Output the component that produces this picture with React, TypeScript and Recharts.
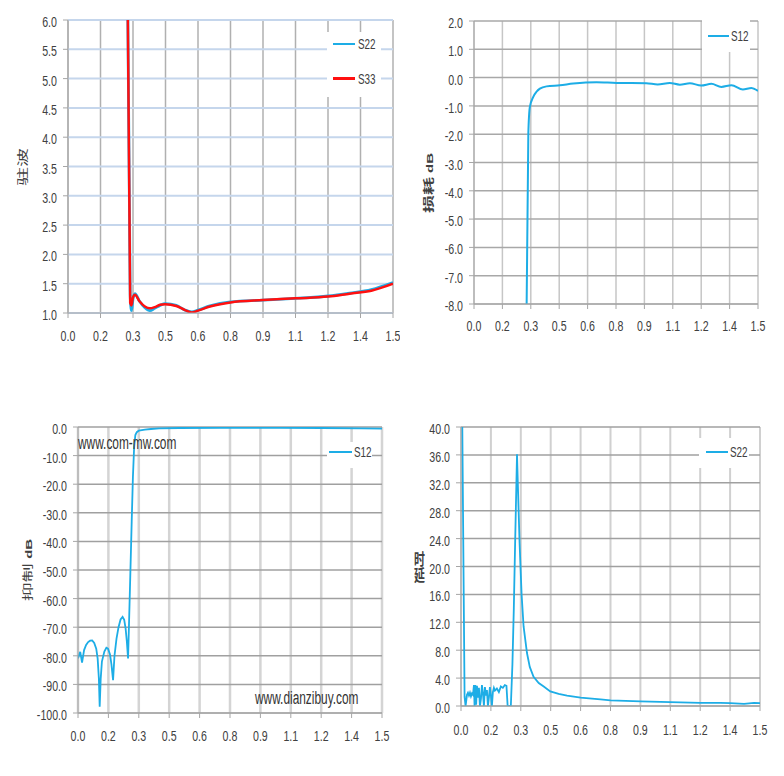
import React from 'react';
import { LineChart, Line, XAxis, YAxis, CartesianGrid } from 'recharts';

// frequency axis (GHz), evenly spaced, labels rounded like the original sheet
const xTicks = [0, 0.15, 0.3, 0.45, 0.6, 0.75, 0.9, 1.05, 1.2, 1.35, 1.5];
const xTickLabels = ['0.0', '0.2', '0.3', '0.5', '0.6', '0.8', '0.9', '1.1', '1.2', '1.4', '1.5'];

const vswrTicks = [1, 1.5, 2, 2.5, 3, 3.5, 4, 4.5, 5, 5.5, 6];
const lossTicks = [-8, -7, -6, -5, -4, -3, -2, -1, 0, 1, 2];
const rejTicks = [-100, -90, -80, -70, -60, -50, -40, -30, -20, -10, 0];
const delayTicks = [0, 4, 8, 12, 16, 20, 24, 28, 32, 36, 40];

// 驻波
const vswrFreq = [0.274, 0.287, 0.293, 0.3, 0.309, 0.33, 0.355, 0.378, 0.4, 0.425, 0.448, 0.5, 0.54, 0.571, 0.6, 0.655, 0.75, 0.9, 1.05, 1.2, 1.3, 1.4, 1.5];
const s22Vswr = [7.0, 1.3, 1.04, 1.24, 1.33, 1.2, 1.09, 1.04, 1.08, 1.13, 1.16, 1.13, 1.05, 1.02, 1.05, 1.12, 1.19, 1.22, 1.25, 1.29, 1.34, 1.4, 1.52];
const s33Vswr = [7.0, 1.17, 1.13, 1.27, 1.31, 1.2, 1.11, 1.08, 1.1, 1.14, 1.15, 1.12, 1.05, 1.01, 1.04, 1.11, 1.18, 1.22, 1.25, 1.28, 1.33, 1.38, 1.5];

// 损耗
const lossFreq = [0.278, 0.287, 0.295, 0.313, 0.33, 0.348, 0.383, 0.454, 0.524, 0.647, 0.753, 0.91, 0.97, 1.034, 1.087, 1.14, 1.2, 1.254, 1.306, 1.36, 1.42, 1.465, 1.5];
const s12Loss = [-8.0, -1.98, -1.04, -0.68, -0.5, -0.39, -0.31, -0.27, -0.21, -0.16, -0.19, -0.2, -0.24, -0.19, -0.25, -0.2, -0.28, -0.22, -0.33, -0.27, -0.42, -0.37, -0.47];

// 抑制
const rejFreq = [0.0, 0.011, 0.02, 0.03, 0.04, 0.05, 0.06, 0.07, 0.08, 0.09, 0.097, 0.103, 0.107, 0.112, 0.118, 0.13, 0.14, 0.148, 0.158, 0.165, 0.173, 0.18, 0.19, 0.2, 0.21, 0.22, 0.228, 0.235, 0.241, 0.247, 0.252, 0.258, 0.265, 0.271, 0.277, 0.283, 0.29, 0.3, 0.33, 0.36, 0.4, 0.5, 0.7, 1.0, 1.2, 1.4, 1.5];
const s12Rej = [-80.9, -78.6, -82.4, -78, -76.2, -75.2, -74.7, -74.6, -75.5, -77.5, -81, -88, -97.8, -88, -82, -78.5, -77.2, -77.5, -79.5, -83, -88.5, -80, -74, -70, -67.3, -66.4, -67.4, -70.5, -75, -80.9, -68, -52, -33, -17.4, -7, -2.8, -1.8, -1.3, -0.9, -0.7, -0.5, -0.35, -0.3, -0.3, -0.35, -0.45, -0.55];

// 时延
const delayFreq = [0.005, 0.018, 0.023, 0.03, 0.035, 0.04, 0.045, 0.05, 0.055, 0.06, 0.065, 0.068, 0.072, 0.076, 0.08, 0.085, 0.09, 0.095, 0.1, 0.105, 0.11, 0.115, 0.12, 0.125, 0.13, 0.135, 0.14, 0.145, 0.15, 0.155, 0.16, 0.165, 0.17, 0.18, 0.19, 0.2, 0.21, 0.22, 0.228, 0.234, 0.25, 0.258, 0.265, 0.272, 0.278, 0.281, 0.288, 0.294, 0.304, 0.314, 0.331, 0.345, 0.364, 0.39, 0.415, 0.448, 0.49, 0.532, 0.6, 0.7, 0.75, 0.9, 1.05, 1.2, 1.3, 1.35, 1.42, 1.47, 1.5];
const s22Delay = [45, 1.3, 0, 1.6, 1.9, 1.5, 1.9, 1.4, 1.8, 1.6, 3.0, 0, 3.0, 0.2, 2.9, 1.2, 2.6, 0, 1.0, 3.0, 1.8, 0, 2.7, 1.5, 2.3, 0, 1.2, 2.7, 1.5, 0, 2.0, 2.6, 2.2, 2.5, 2.0, 2.8, 2.6, 3.0, 2.9, 0, 0, 6, 14, 24, 32, 36.1, 29, 23.3, 16, 11.4, 7.6, 5.6, 4.2, 3.3, 2.8, 2.1, 1.75, 1.5, 1.2, 0.95, 0.8, 0.65, 0.55, 0.45, 0.45, 0.42, 0.3, 0.45, 0.4];

const vswrData = vswrFreq.map((f, i) => ({ f, S22: s22Vswr[i], S33: s33Vswr[i] }));
const lossData = lossFreq.map((f, i) => ({ f, S12: s12Loss[i] }));
const rejData = rejFreq.map((f, i) => ({ f, S12: s12Rej[i] }));
const delayData = delayFreq.map((f, i) => ({ f, S22: s22Delay[i] }));

const BLUE = '#1DADE6';
const RED = '#FF1010';
const TXT = '#404040';
const LATIN = '"Liberation Sans", Arial, sans-serif';
const CJK = '"Noto Sans CJK SC", sans-serif';
const SQ = 0.76; // the source picture is squeezed horizontally

const XTick = (props: any) => {
  const { x, y, payload } = props;
  const i = xTicks.findIndex((t) => Math.abs(t - payload.value) < 1e-6);
  return (
    <g transform={`translate(${x},${y}) scale(${SQ},1)`}>
      <text textAnchor="middle" dy="0.71em" fontSize={14} fontFamily={LATIN} fill={TXT}>
        {xTickLabels[i]}
      </text>
    </g>
  );
};

const YTick = (props: any) => {
  const { x, y, payload } = props;
  return (
    <g transform={`translate(${x},${y}) scale(${SQ},1)`}>
      <text textAnchor="end" dy="0.5em" fontSize={14} fontFamily={LATIN} fill={TXT}>
        {Number(payload.value).toFixed(1)}
      </text>
    </g>
  );
};

type Series = { key: string; color: string; width: number };

interface PanelProps {
  left: number;
  top: number;
  width: number;
  height: number;
  margin: { top: number; right: number };
  yWidth: number;
  xHeight: number;
  xTickMargin: number;
  yDomain: [number, number];
  yTicks: number[];
  data: any[];
  series: Series[];
  hGrid: { stroke: string; width: number };
  vGrid: { stroke: string; width: number };
  curve: 'monotone' | 'linear';
  legend: { left: number; top: number; width: number; height: number; lineLeft: number; lineWidth: number; textLeft: number; firstY: number; gap: number; lineW: number };
  children?: React.ReactNode;
}

const Panel: React.FC<PanelProps> = (p) => {
  const lg = p.legend;
  return (
    <div style={{ position: 'absolute', left: p.left, top: p.top, width: p.width, height: p.height }}>
      <LineChart width={p.width} height={p.height} data={p.data} margin={{ top: p.margin.top, right: p.margin.right, left: 0, bottom: 0 }}>
        <CartesianGrid horizontal={false} stroke={p.vGrid.stroke} strokeWidth={p.vGrid.width} />
        <CartesianGrid vertical={false} stroke={p.hGrid.stroke} strokeWidth={p.hGrid.width} />
        <XAxis
          dataKey="f"
          type="number"
          domain={[0, 1.5]}
          ticks={xTicks}
          allowDataOverflow
          height={p.xHeight}
          tickSize={5}
          tickMargin={p.xTickMargin}
          stroke="#A6A6A6"
          tick={<XTick />}
          interval={0}
        />
        <YAxis
          type="number"
          domain={p.yDomain}
          ticks={p.yTicks}
          allowDataOverflow
          width={p.yWidth}
          tickSize={5}
          tickMargin={6}
          stroke="#A6A6A6"
          tick={<YTick />}
          interval={0}
        />
        {p.series.map((s) => (
          <Line
            key={s.key}
            type={p.curve}
            dataKey={s.key}
            stroke={s.color}
            strokeWidth={s.width}
            dot={false}
            activeDot={false}
            isAnimationActive={false}
          />
        ))}
      </LineChart>
      <div style={{ position: 'absolute', left: lg.left, top: lg.top, width: lg.width, height: lg.height, background: '#fff' }}>
        {p.series.map((s, i) => {
          const cy = lg.firstY + i * lg.gap - lg.top;
          return (
            <React.Fragment key={s.key}>
              <div style={{ position: 'absolute', left: lg.lineLeft - lg.left, top: cy - lg.lineW / 2, width: lg.lineWidth, height: lg.lineW, background: s.color }} />
              <div
                style={{
                  position: 'absolute',
                  left: lg.textLeft - lg.left,
                  top: cy - 9,
                  height: 18,
                  lineHeight: '18px',
                  fontSize: 15,
                  fontFamily: LATIN,
                  color: TXT,
                  whiteSpace: 'nowrap',
                  transform: 'scaleX(0.66)',
                  transformOrigin: 'left center',
                }}
              >
                {s.key}
              </div>
            </React.Fragment>
          );
        })}
      </div>
      {p.children}
    </div>
  );
};

const RotLabel: React.FC<{ cx: number; cy: number; size: number; bold?: boolean; children: React.ReactNode }> = ({ cx, cy, size, bold, children }) => (
  <div
    style={{
      position: 'absolute',
      left: cx,
      top: cy,
      fontSize: size,
      fontFamily: CJK,
      fontWeight: bold ? 700 : 400,
      color: TXT,
      whiteSpace: 'nowrap',
      lineHeight: 1,
      transform: 'translate(-50%,-50%) scaleX(0.62) rotate(-90deg)',
    }}
  >
    {children}
  </div>
);

const DB: React.FC<{ size: number }> = ({ size }) => (
  <span style={{ fontFamily: LATIN, fontWeight: 700, fontSize: size }}>dB</span>
);

const Mark: React.FC<{ left: number; cy: number; text: string }> = ({ left, cy, text }) => (
  <div
    style={{
      position: 'absolute',
      left,
      top: cy - 11,
      height: 22,
      lineHeight: '22px',
      fontSize: 18,
      fontFamily: LATIN,
      color: '#333',
      whiteSpace: 'nowrap',
      transform: 'scaleX(0.66)',
      transformOrigin: 'left center',
    }}
  >
    {text}
  </div>
);

export default function App() {
  return (
    <div style={{ position: 'absolute', left: 0, top: 0, width: 784, height: 776, background: '#fff', overflow: 'hidden' }}>
      <Panel
        left={0}
        top={0}
        width={400}
        height={350}
        margin={{ top: 20, right: 7 }}
        yWidth={68}
        xHeight={37}
        xTickMargin={13}
        yDomain={[1, 6]}
        yTicks={vswrTicks}
        data={vswrData}
        series={[
          { key: 'S22', color: BLUE, width: 2.8 },
          { key: 'S33', color: RED, width: 2.5 },
        ]}
        hGrid={{ stroke: '#C5D6EC', width: 2 }}
        vGrid={{ stroke: '#B0B0B0', width: 1.5 }}
        curve="monotone"
        legend={{ left: 327, top: 32, width: 54, height: 65, lineLeft: 333, lineWidth: 22, textLeft: 358, firstY: 44, gap: 34.5, lineW: 2.5 }}
      >
        <RotLabel cx={22} cy={167} size={19}>驻波</RotLabel>
      </Panel>

      <Panel
        left={400}
        top={0}
        width={384}
        height={350}
        margin={{ top: 21, right: 26 }}
        yWidth={74}
        xHeight={46}
        xTickMargin={12}
        yDomain={[-8, 2]}
        yTicks={lossTicks}
        data={lossData}
        series={[{ key: 'S12', color: BLUE, width: 2 }]}
        hGrid={{ stroke: '#A8A8A8', width: 1.5 }}
        vGrid={{ stroke: '#C6C6C6', width: 1.5 }}
        curve="monotone"
        legend={{ left: 302, top: 20, width: 48, height: 32, lineLeft: 308, lineWidth: 21, textLeft: 331, firstY: 36, gap: 0, lineW: 2 }}
      >
        <RotLabel cx={28} cy={183} size={18} bold>
          损耗 <DB size={15} />
        </RotLabel>
      </Panel>

      <Panel
        left={0}
        top={400}
        width={400}
        height={350}
        margin={{ top: 27, right: 18 }}
        yWidth={78}
        xHeight={37}
        xTickMargin={13}
        yDomain={[-100, 0]}
        yTicks={rejTicks}
        data={rejData}
        series={[{ key: 'S12', color: BLUE, width: 1.8 }]}
        hGrid={{ stroke: '#A0A0A0', width: 1.5 }}
        vGrid={{ stroke: '#D4D4D4', width: 2.5 }}
        curve="linear"
        legend={{ left: 327, top: 42, width: 45, height: 26, lineLeft: 329, lineWidth: 23, textLeft: 354, firstY: 51.7, gap: 0, lineW: 2 }}
      >
        <RotLabel cx={27} cy={170} size={19}>
          抑制 <DB size={15} />
        </RotLabel>
        <Mark left={78} cy={42.5} text="www.com-mw.com" />
        <Mark left={255} cy={298} text="www.dianzibuy.com" />
      </Panel>

      <Panel
        left={400}
        top={400}
        width={384}
        height={350}
        margin={{ top: 27, right: 24 }}
        yWidth={61}
        xHeight={44}
        xTickMargin={14}
        yDomain={[0, 40]}
        yTicks={delayTicks}
        data={delayData}
        series={[{ key: 'S22', color: BLUE, width: 1.8 }]}
        hGrid={{ stroke: '#A0A0A0', width: 1.5 }}
        vGrid={{ stroke: '#D0D0D0', width: 2 }}
        curve="linear"
        legend={{ left: 299, top: 38, width: 50, height: 30, lineLeft: 306, lineWidth: 22, textLeft: 330, firstY: 51.7, gap: 0, lineW: 2 }}
      >
        <div
          style={{
            position: 'absolute',
            left: 19,
            top: 167,
            fontSize: 16,
            fontFamily: CJK,
            fontWeight: 700,
            color: TXT,
            lineHeight: 1.1,
            writingMode: 'vertical-rl',
            textOrientation: 'upright',
            transform: 'translate(-50%,-50%) scaleX(0.68)',
          }}
        >
          时延
        </div>
      </Panel>
    </div>
  );
}
